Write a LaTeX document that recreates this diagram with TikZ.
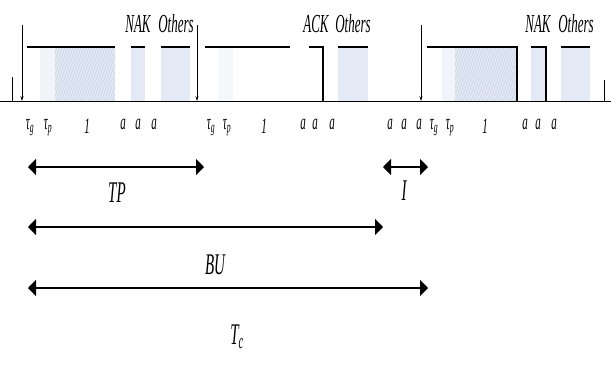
\documentclass[tikz,border=0pt]{standalone}
\usepackage{fontspec}
\setmainfont{Liberation Serif}
\usetikzlibrary{arrows.meta,patterns.meta}
\definecolor{paleblue}{HTML}{E3EAF5}
\definecolor{hatch}{HTML}{C6D0E0}
\newcommand{\narrow}[1]{\scalebox{0.5}[1]{#1}}
\tikzset{
  axis/.style={line width=1pt},
  slotline/.style={line width=1.1pt},
  slotfill/.style={fill=paleblue,draw=none},
  dotfill/.style={pattern={Lines[angle=70,distance=2.5pt,line width=0.5pt]},pattern color=hatch},
  frameArrow/.style={line width=0.7pt,-{Stealth[length=5pt,width=3pt]}},
  span/.style={line width=1.2pt,{Triangle[length=8pt,width=16pt]}-{Triangle[length=8pt,width=16pt]}},
  toplab/.style={inner sep=0pt,font=\fontsize{26}{26}\selectfont\itshape},
  sublab/.style={inner sep=0pt,font=\fontsize{22}{22}\selectfont\itshape},
  spanlab/.style={inner sep=0pt,font=\fontsize{30}{30}\selectfont\itshape}
}
\begin{document}
\begin{tikzpicture}[x=1pt,y=-1pt]
\useasboundingbox (0,0) rectangle (611,365);

% shaded areas under the slots
\fill[paleblue!50] (40,47) rectangle (115,101);
\fill[paleblue] (55,47) rectangle (115,101);
\fill[dotfill] (55,47) rectangle (115,101);
\fill[slotfill] (131,47) rectangle (145,101);
\fill[slotfill] (161,47) rectangle (190,101);
\fill[paleblue!35] (218,47) rectangle (233,101);
\fill[slotfill] (338,47) rectangle (368,101);
\fill[paleblue!50] (442,47) rectangle (517,101);
\fill[paleblue] (455,47) rectangle (517,101);
\fill[dotfill] (455,47) rectangle (517,101);
\fill[slotfill] (531,47) rectangle (546,101);
\fill[slotfill] (561,47) rectangle (590,101);

% time axis and end ticks
\coordinate (axL) at (0,101);
\coordinate (axR) at (611,101);
\draw[axis] (axL) -- (axR);
\draw[axis] (12,77) -- (12,101);
\draw[axis] (604,80) -- (604,101);

% frame start markers
\coordinate (f1top) at (22,25);  \coordinate (f1) at (22,101);
\coordinate (f2top) at (197,25); \coordinate (f2) at (197,101);
\coordinate (f3top) at (421,25); \coordinate (f3) at (421,101);
\draw[frameArrow] (f1top) -- (f1);
\draw[frameArrow] (f2top) -- (f2);
\draw[frameArrow] (f3top) -- (f3);

% slot outlines
\draw[slotline] (27,47) -- (115,47);
\draw[slotline] (131,47) -- (145,47);
\draw[slotline] (161,47) -- (190,47);
\draw[slotline] (205,47) -- (290,47);
\draw[slotline] (309,47) -- (323,47) -- (323,101);
\draw[slotline] (338,47) -- (368,47);
\draw[slotline] (427,47) -- (517,47) -- (517,101);
\draw[slotline] (531,47) -- (546,47) -- (546,101);
\draw[slotline] (561,47) -- (590,47);

% labels above the slots
\node[toplab] (nak1) at (138,24) {\narrow{NAK}};
\node[toplab] (oth1) at (176,24) {\narrow{Others}};
\node[toplab] (ack2) at (316,24) {\narrow{ACK}};
\node[toplab] (oth2) at (353,24) {\narrow{Others}};
\node[toplab] (nak3) at (538,24) {\narrow{NAK}};
\node[toplab] (oth3) at (576,24) {\narrow{Others}};

% labels under the axis
\foreach \x/\n in {30/1,211/2,434/3}{
  \node[sublab] (tg\n) at (\x,128) {\narrow{τ\textsubscript{g}}};
}
\foreach \x/\n in {48/1,227/2,450/3}{
  \node[sublab] (tp\n) at (\x,128) {\narrow{τ\textsubscript{p}}};
}
\foreach \x/\n in {87/1,264/2,485/3}{
  \node[sublab] (one\n) at (\x,126) {\narrow{1}};
}
\foreach \x/\n in {123/a,138/b,154/c,303/d,315/e,332/f,390/g,404/h,419/i,525/j,538/k,554/l}{
  \node[sublab] (a\n) at (\x,124) {\narrow{a}};
}

% duration spans
\coordinate (tpL) at (28,167);  \coordinate (tpR) at (204,167);
\coordinate (iL)  at (383,167); \coordinate (iR)  at (428,167);
\coordinate (buL) at (28,227);  \coordinate (buR) at (383,227);
\coordinate (tcL) at (28,288);  \coordinate (tcR) at (428,288);
\draw[span] (tpL) -- (tpR);
\draw[span] (iL) -- (iR);
\draw[span] (buL) -- (buR);
\draw[span] (tcL) -- (tcR);
\node[spanlab] (tpLab) at (117,193) {\narrow{TP}};
\node[spanlab] (iLab) at (404,191) {\narrow{I}};
\node[spanlab] (buLab) at (215,265) {\narrow{BU}};
\node[spanlab] (tcLab) at (237,337) {\narrow{T\textsubscript{c}}};
\end{tikzpicture}
\end{document}
